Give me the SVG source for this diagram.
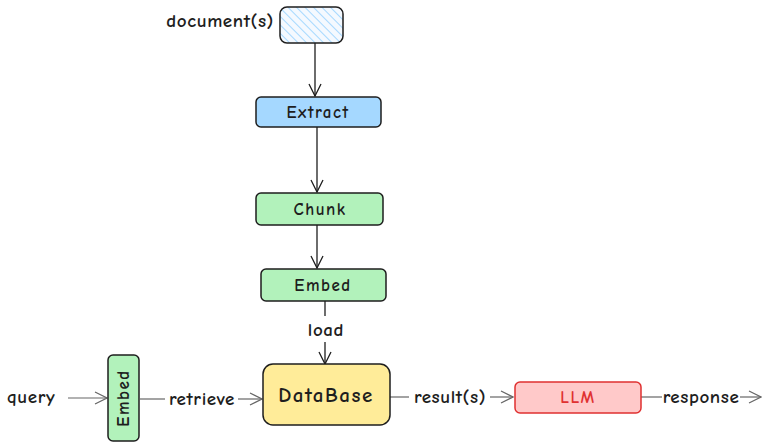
<svg xmlns="http://www.w3.org/2000/svg" width="768" height="448" viewBox="0 0 768 448">
<defs>
<pattern id="hatch" width="6" height="6" patternUnits="userSpaceOnUse" patternTransform="rotate(-45)">
<rect width="6" height="6" fill="#f4f9ff"/>
<line x1="0" y1="0" x2="0" y2="6" stroke="#a5d8ff" stroke-width="2"/>
</pattern>
<marker id="ahd" viewBox="0 0 14 14" refX="13" refY="7" markerWidth="14" markerHeight="14" markerUnits="userSpaceOnUse" orient="auto">
<path d="M1,1 L13,7 L1,13" fill="none" stroke="#1e1e1e" stroke-width="1.3"/>
</marker>
<marker id="ahg" viewBox="0 0 14 14" refX="13" refY="7" markerWidth="14" markerHeight="14" markerUnits="userSpaceOnUse" orient="auto">
<path d="M1,1 L13,7 L1,13" fill="none" stroke="#666" stroke-width="1.2"/>
</marker>
</defs>
<style>
text{font-family:"Comic Neue","Noto Sans","Liberation Sans",sans-serif;fill:#1e1e1e;font-weight:bold;}
.lbl{font-size:19px;letter-spacing:0.6px;}
.nt{font-size:17px;letter-spacing:1.5px;text-anchor:middle;dominant-baseline:central;}
.box{stroke:#1e1e1e;stroke-width:1.5;}
.cv{stroke:#1e1e1e;stroke-width:1.3;fill:none;}
.ch{stroke:#666;stroke-width:1.2;fill:none;}
</style>
<rect width="768" height="448" fill="#ffffff"/>
<g id="connectors">
<line class="cv" x1="315" y1="43" x2="315" y2="96" marker-end="url(#ahd)"/>
<line class="cv" x1="317" y1="127" x2="317" y2="192" marker-end="url(#ahd)"/>
<line class="cv" x1="317" y1="225" x2="317" y2="268" marker-end="url(#ahd)"/>
<line class="cv" x1="325" y1="301" x2="325" y2="316"/>
<line class="cv" x1="325" y1="342" x2="325" y2="364" marker-end="url(#ahd)"/>
<text class="lbl" x="326" y="336" text-anchor="middle">load</text>
<line class="ch" x1="68" y1="398" x2="107" y2="398" marker-end="url(#ahg)"/>
<line class="ch" x1="140" y1="399" x2="165" y2="399"/>
<text class="lbl" x="202" y="405" text-anchor="middle">retrieve</text>
<line class="ch" x1="238" y1="399" x2="262" y2="399" marker-end="url(#ahg)"/>
<line class="ch" x1="390" y1="397" x2="409" y2="397"/>
<text class="lbl" x="450" y="403" text-anchor="middle">result(s)</text>
<line class="ch" x1="490" y1="397" x2="513" y2="397" marker-end="url(#ahg)"/>
<line class="ch" x1="641" y1="397" x2="662" y2="397"/>
<text class="lbl" x="701" y="403" text-anchor="middle">response</text>
<line class="ch" x1="740" y1="397" x2="761" y2="397" marker-end="url(#ahg)"/>
</g>
<g id="documents">
<text class="lbl" x="274" y="27" text-anchor="end">document(s)</text>
<rect class="box" x="280" y="7" width="63" height="36" rx="7" fill="url(#hatch)"/>
</g>
<g id="extract">
<rect class="box" x="256" y="97" width="125" height="30" rx="5" fill="#a5d8ff"/>
<text class="nt" x="318" y="112">Extract</text>
</g>
<g id="chunk">
<rect class="box" x="256" y="193" width="127" height="32" rx="5" fill="#b2f2bb"/>
<text class="nt" x="320" y="209">Chunk</text>
</g>
<g id="embed">
<rect class="box" x="261" y="269" width="125" height="32" rx="5" fill="#b2f2bb"/>
<text class="nt" x="323" y="285">Embed</text>
</g>
<g id="query">
<text class="lbl" x="7" y="403">query</text>
</g>
<g id="embed-query">
<rect class="box" x="108" y="355" width="31" height="86" rx="5" fill="#b2f2bb"/>
<text class="nt" x="0" y="0" transform="translate(123.5 398) rotate(-90)">Embed</text>
</g>
<g id="database">
<rect class="box" x="263" y="364" width="127" height="61" rx="10" fill="#ffec99"/>
<text class="nt" x="326" y="395" style="font-size:21px">DataBase</text>
</g>
<g id="llm">
<rect x="515" y="382" width="126" height="31" rx="5" fill="#ffc9c9" stroke="#e03131" stroke-width="1.5"/>
<text class="nt" x="578" y="397" style="fill:#e03131">LLM</text>
</g>
</svg>
